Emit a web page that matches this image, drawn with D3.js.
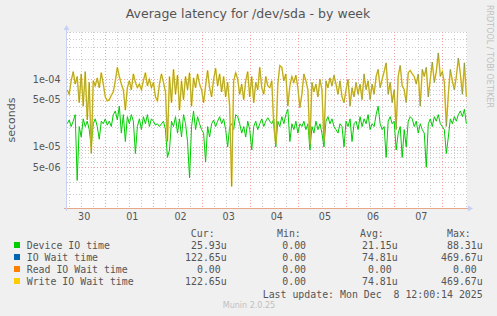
<!DOCTYPE html>
<html lang="en">
<head>
<meta charset="UTF-8">
<script src="https://cdn.jsdelivr.net/npm/d3@7"></script>
<style>
  body { margin: 0; background: #f0f0f0; }
  svg { display: block; }
  .sans { font-family: "DejaVu Sans", sans-serif; fill: #555; }
  .mono { font-family: "DejaVu Sans Mono", monospace; font-size: 9.9px; fill: #555; white-space: pre; }
</style>
</head>
<body>
<div id="chart"></div>
<script>
// series values in microseconds, one per hour starting Nov 30 05:00 (UTC)
const startTime = Date.UTC(2025, 10, 30, 5);
const deviceIO = [
  22,25,20,24,30,3.2,20,14,26,20,24,18,10,22,26,20,13,24,22,26,21,24,20,30,34,25,40,16,30,12,28,22,30,24,
  8,20,26,18,28,22,30,20,26,24,21,22,20,22,24,18,7,9,24,20,28,16,26,14,30,22,12,3.5,20,34,18,28,22,
  18,16,6,20,14,22,25,20,24,28,22,26,18,10,20,22,18,30,28,22,16,20,14,24,18,9,20,24,18,22,26,20,24,27,
  24,22,26,10,24,20,28,22,30,36,12,22,18,24,16,22,20,24,18,22,9,20,16,24,18,22,16,10,24,28,22,26,20,
  18,16,22,20,10,24,20,26,12,22,24,18,28,20,26,22,30,18,22,20,30,40,22,18,20,7,24,28,22,24,9,16,20,7,
  18,10,24,28,26,20,24,16,22,18,16,5,22,26,20,28,24,30,22,20,18,8,14,26,22,28,24,30,34,28,36,22
];
const writeWait = [
  70,60,95,130,85,110,45,120,40,130,25,90,8,95,80,105,75,125,85,55,48,50,58,65,95,150,110,85,70,35,75,95,70,120,
  90,75,85,70,95,125,80,100,75,90,55,48,85,120,90,65,12,110,45,140,60,115,35,95,50,110,70,125,40,105,75,120,85,
  70,45,80,135,75,55,100,145,80,120,65,110,55,90,40,2.6,95,125,100,60,85,50,95,130,55,110,45,90,70,150,75,60,110,80,
  75,95,20,11,85,160,150,95,120,40,80,110,90,115,75,38,60,120,95,70,11,90,65,85,55,100,70,12,95,75,105,80,115,
  85,60,95,55,45,70,100,40,75,55,90,60,85,50,120,70,95,50,85,60,110,140,75,100,130,175,60,90,45,70,18,110,160,80,
  70,45,125,135,120,110,85,120,40,140,110,150,55,100,180,90,130,245,110,130,90,20,60,140,95,70,110,205,120,60,175,55
];
// IO wait equals write wait here (read wait is 0 all week)
const ioWait = writeWait;

const yTicks = [1e-4, 5e-5, 1e-5, 5e-6];
const dayLabels = ["30", "01", "02", "03", "04", "05", "06", "07"];

const legendNames = ["Device IO time", "IO Wait time", "Read IO Wait time", "Write IO Wait time"];
const legendColors = ["#00cc00", "#0066b3", "#ff8000", "#ffcc00"];
const curVals = ["25.93u", "122.65u", "0.00", "122.65u"];
const minVals = ["0.00", "0.00", "0.00", "0.00"];
const avgVals = ["21.15u", "74.81u", "0.00", "74.81u"];
const maxVals = ["88.31u", "469.67u", "0.00", "469.67u"];

const W = 497, H = 316;
const plot = { left: 67, right: 467, top: 32, bottom: 208 };

const svg = d3.select("#chart").append("svg")
    .attr("width", W).attr("height", H);

svg.append("rect").attr("width", W).attr("height", H).attr("fill", "#f0f0f0");
svg.append("rect")
    .attr("x", plot.left).attr("y", plot.top)
    .attr("width", plot.right - plot.left).attr("height", plot.bottom - plot.top)
    .attr("fill", "#fff");

// scales
const x = d3.scaleUtc()
    .domain([new Date(Date.UTC(2025, 10, 30, 4, 55)), new Date(Date.UTC(2025, 11, 8, 12, 18))])
    .range([plot.left, plot.right]);
const y = d3.scaleLog()
    .domain([1.25e-6, 5e-4])
    .range([plot.bottom, plot.top]);

// horizontal grid
const hLines = [];
[1e-6, 1e-5, 1e-4].forEach(d => {
  for (let k = 1; k <= 9; k++) {
    const v = k * d;
    if (v >= 1.3e-6 && v <= 5.01e-4) hLines.push(v);
  }
});
svg.append("g").selectAll("line").data(hLines).enter().append("line")
    .attr("x1", plot.left).attr("x2", plot.right)
    .attr("y1", d => Math.round(y(d)) + 0.5).attr("y2", d => Math.round(y(d)) + 0.5)
    .attr("stroke", d => yTicks.some(t => Math.abs(t - d) < d * 1e-6) ? "#f0a0a0" : "#cccccc")
    .attr("stroke-dasharray", "1,2");

// vertical grid every 6h, red at midnight
const vLines = x.ticks(d3.utcHour.every(6));
svg.append("g").selectAll("line").data(vLines).enter().append("line")
    .attr("y1", plot.top).attr("y2", plot.bottom)
    .attr("x1", d => Math.round(x(d)) + 0.5).attr("x2", d => Math.round(x(d)) + 0.5)
    .attr("stroke", d => d.getUTCHours() === 0 ? "#f0a0a0" : "#cccccc")
    .attr("stroke-dasharray", "1,2");

// data
const toPts = arr => arr.map((v, i) => ({ t: new Date(startTime + i * 3600e3), v: v * 1e-6 }));
const line = d3.line().x(d => x(d.t)).y(d => y(d.v));

svg.append("path").datum(toPts(deviceIO))
    .attr("d", line).attr("fill", "none").attr("stroke", "#00cc00").attr("stroke-width", 1);
svg.append("path").datum(toPts(writeWait))
    .attr("d", line).attr("fill", "none").attr("stroke", "#ffcc00").attr("stroke-width", 1.5);
svg.append("path").datum(toPts(ioWait))
    .attr("d", line).attr("fill", "none").attr("stroke", "#0066b3").attr("stroke-width", 0.8)
    .attr("stroke-opacity", 0.4);

// axes lines
svg.append("line").attr("x1", plot.left - 3).attr("x2", plot.right + 2)
    .attr("y1", plot.bottom + 0.5).attr("y2", plot.bottom + 0.5).attr("stroke", "#e8a888");
svg.append("line").attr("x1", plot.left - 0.5).attr("x2", plot.left - 0.5)
    .attr("y1", plot.bottom + 3).attr("y2", plot.top - 4).attr("stroke", "#c8d0f4");
svg.append("path").attr("d", `M${plot.left - 3.5},${plot.top - 2} L${plot.left - 0.5},${plot.top - 7} L${plot.left + 2.5},${plot.top - 2} Z`)
    .attr("fill", "#c8d0f4");
svg.append("path").attr("d", `M${plot.right + 1},${plot.bottom - 2.5} L${plot.right + 6},${plot.bottom + 0.5} L${plot.right + 1},${plot.bottom + 3.5} Z`)
    .attr("fill", "#c8d0f4");

// y axis labels
const fmtExp = v => {
  const [m, e] = v.toExponential(0).split("e");
  return m + "e" + e[0] + e.slice(1).padStart(2, "0");
};
const yAxis = svg.append("g").attr("transform", `translate(${plot.left},0)`)
    .call(d3.axisLeft(y).tickValues(yTicks).tickFormat(fmtExp).tickSize(0).tickPadding(6.5));
yAxis.select(".domain").remove();
yAxis.selectAll("text").attr("class", "sans").style("font-size", "9.6px").attr("fill", "#555");

// x axis labels at noon
const noons = dayLabels.map((d, i) => new Date(Date.UTC(2025, 10, 30, 12) + i * 86400e3));
const xAxis = svg.append("g").attr("transform", `translate(0,${plot.bottom})`)
    .call(d3.axisBottom(x).tickValues(noons).tickFormat((d, i) => dayLabels[i]).tickSize(0).tickPadding(5));
xAxis.select(".domain").remove();
xAxis.selectAll("text").attr("class", "sans").style("font-size", "9.6px").attr("fill", "#555").attr("dx", 2.5);
xAxis.selectAll(".tick line").remove();

// title and side texts
svg.append("text").attr("class", "sans")
    .attr("x", 248).attr("y", 18).attr("text-anchor", "middle")
    .style("font-size", "12.5px")
    .text("Average latency for /dev/sda - by week");
svg.append("text").attr("class", "sans")
    .attr("transform", "translate(15,120) rotate(-90)").attr("text-anchor", "middle")
    .style("font-size", "11px")
    .text("seconds");
svg.append("text")
    .attr("transform", "translate(486.5,5) rotate(90)")
    .style("font-family", "DejaVu Sans, sans-serif").style("font-size", "8px")
    .attr("fill", "#c0c0c0")
    .text("RRDTOOL / TOBI OETIKER");

// legend
const cw = 5.96;
const lg = svg.append("g");
[["Cur:", 214.6], ["Min:", 300.8], ["Avg:", 383.8], ["Max:", 470.8]].forEach(([t, xe]) => {
  lg.append("text").attr("class", "mono").attr("x", xe).attr("y", 237)
      .attr("text-anchor", "end").text(t);
});
const cols = [[curVals, 226.7], [minVals, 312], [avgVals, 397.7], [maxVals, 482.7]];
legendNames.forEach((name, i) => {
  const by = 249 + i * 12;
  lg.append("rect").attr("x", 14).attr("y", by - 7).attr("width", 6).attr("height", 6)
      .attr("fill", legendColors[i]);
  lg.append("text").attr("class", "mono").attr("x", 26.7).attr("y", by).text(name);
  cols.forEach(([vals, xe]) => {
    const v = vals[i];
    lg.append("text").attr("class", "mono").attr("text-anchor", "end")
        .attr("x", v.endsWith("u") ? xe : xe - cw).attr("y", by).text(v);
  });
});
lg.append("text").attr("class", "mono").attr("x", 482.7).attr("y", 297.7)
    .attr("text-anchor", "end").text("Last update: Mon Dec  8 12:00:14 2025");

svg.append("text")
    .attr("x", 249).attr("y", 308).attr("text-anchor", "middle")
    .style("font-family", "DejaVu Sans, sans-serif").style("font-size", "8px")
    .attr("fill", "#c0c0c0")
    .text("Munin 2.0.25");
</script>
</body>
</html>
